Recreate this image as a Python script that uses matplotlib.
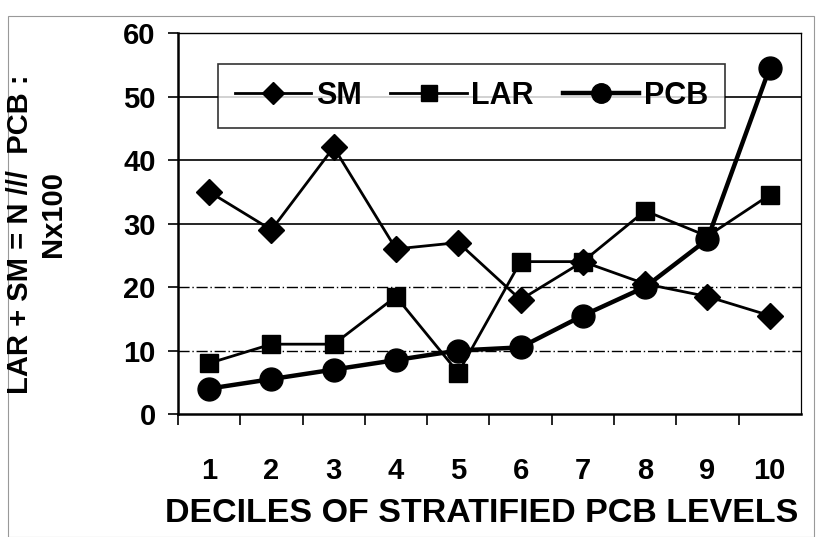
# Line chart of SM, LAR and PCB by decile of stratified PCB levels
import matplotlib
matplotlib.use("Agg")
import matplotlib.pyplot as plt
from matplotlib.patches import Rectangle

deciles = [1, 2, 3, 4, 5, 6, 7, 8, 9, 10]
sm = [35, 29, 42, 26, 27, 18, 24, 20.5, 18.5, 15.5]
lar = [8, 11, 11, 18.5, 6.5, 24, 24, 32, 28, 34.5]
pcb = [4, 5.5, 7, 8.5, 10, 10.5, 15.5, 20, 27.5, 54.5]

plt.rcParams['font.family'] = ['Liberation Sans', 'DejaVu Sans']
plt.rcParams['font.weight'] = 'bold'

fig = plt.figure(figsize=(8.18, 5.37), dpi=100)
ax = fig.add_axes([0.2176, 0.229, 0.7614, 0.7095])

# faint page frame from the scan
fig.patches.append(Rectangle((0.01, 0.0), 0.985, 0.97, transform=fig.transFigure,
                             fill=False, edgecolor='#999999', linewidth=0.8))

# gridlines: solid at 30-50, dash-dot at 10-20
for v in [30, 40, 50]:
    ax.axhline(v, color='black', linewidth=1.2, zorder=1)
for v in [10, 20]:
    ax.axhline(v, color='black', linewidth=1.0, linestyle=(0, (8, 2, 1, 2)), zorder=1)

ax.plot(deciles, sm, color='black', linewidth=2.0, marker='D', markersize=13.5,
        label='SM', zorder=3)
ax.plot(deciles, lar, color='black', linewidth=2.0, marker='s', markersize=13.5,
        label='LAR', zorder=3)
ax.plot(deciles, pcb, color='black', linewidth=3.2, marker='o', markersize=16.5,
        label='PCB', zorder=4)

ax.set_xlim(0.5, 10.5)
ax.set_ylim(0, 60)
ax.set_yticks([0, 10, 20, 30, 40, 50, 60])
ax.set_xticks(deciles)
ax.set_xticks([x + 0.5 for x in range(0, 10)], minor=True)
ax.tick_params(axis='x', which='major', length=0, pad=31, labelsize=21)
ax.tick_params(axis='x', which='minor', length=8, width=1.2, direction='out')
ax.tick_params(axis='y', length=7, width=1.2, direction='out', labelsize=21, pad=9)

for side in ['left', 'bottom']:
    ax.spines[side].set_linewidth(1.8)
ax.spines['top'].set_linewidth(1.0)
ax.spines['top'].set_linestyle((0, (6, 1)))
ax.spines['right'].set_linewidth(0.9)
ax.spines['right'].set_linestyle((0, (1, 1)))

ax.set_xlabel('DECILES OF STRATIFIED PCB LEVELS', fontsize=24.5, fontweight='bold',
              labelpad=9)
ax.xaxis.label.set_x(0.487)

# y label drawn as two rotated lines
fig.text(20 / 818, 1 - 234 / 537, 'LAR + SM = N ///  PCB :', rotation=90,
         ha='center', va='center', fontsize=21, fontweight='bold')
fig.text(53 / 818, 1 - 214 / 537, 'Nx100', rotation=90,
         ha='center', va='center', fontsize=21, fontweight='bold')

leg = ax.legend(ncol=3, loc='upper left', bbox_to_anchor=(0.064, 0.918),
                frameon=True, fancybox=False, edgecolor='black', fontsize=22,
                handlelength=2.5, handletextpad=0.15, columnspacing=0.95,
                borderpad=0.55, borderaxespad=0, markerscale=0.85)
leg.get_frame().set_linewidth(1.2)
leg.set_zorder(5)

fig.savefig('out.png', dpi=100)
